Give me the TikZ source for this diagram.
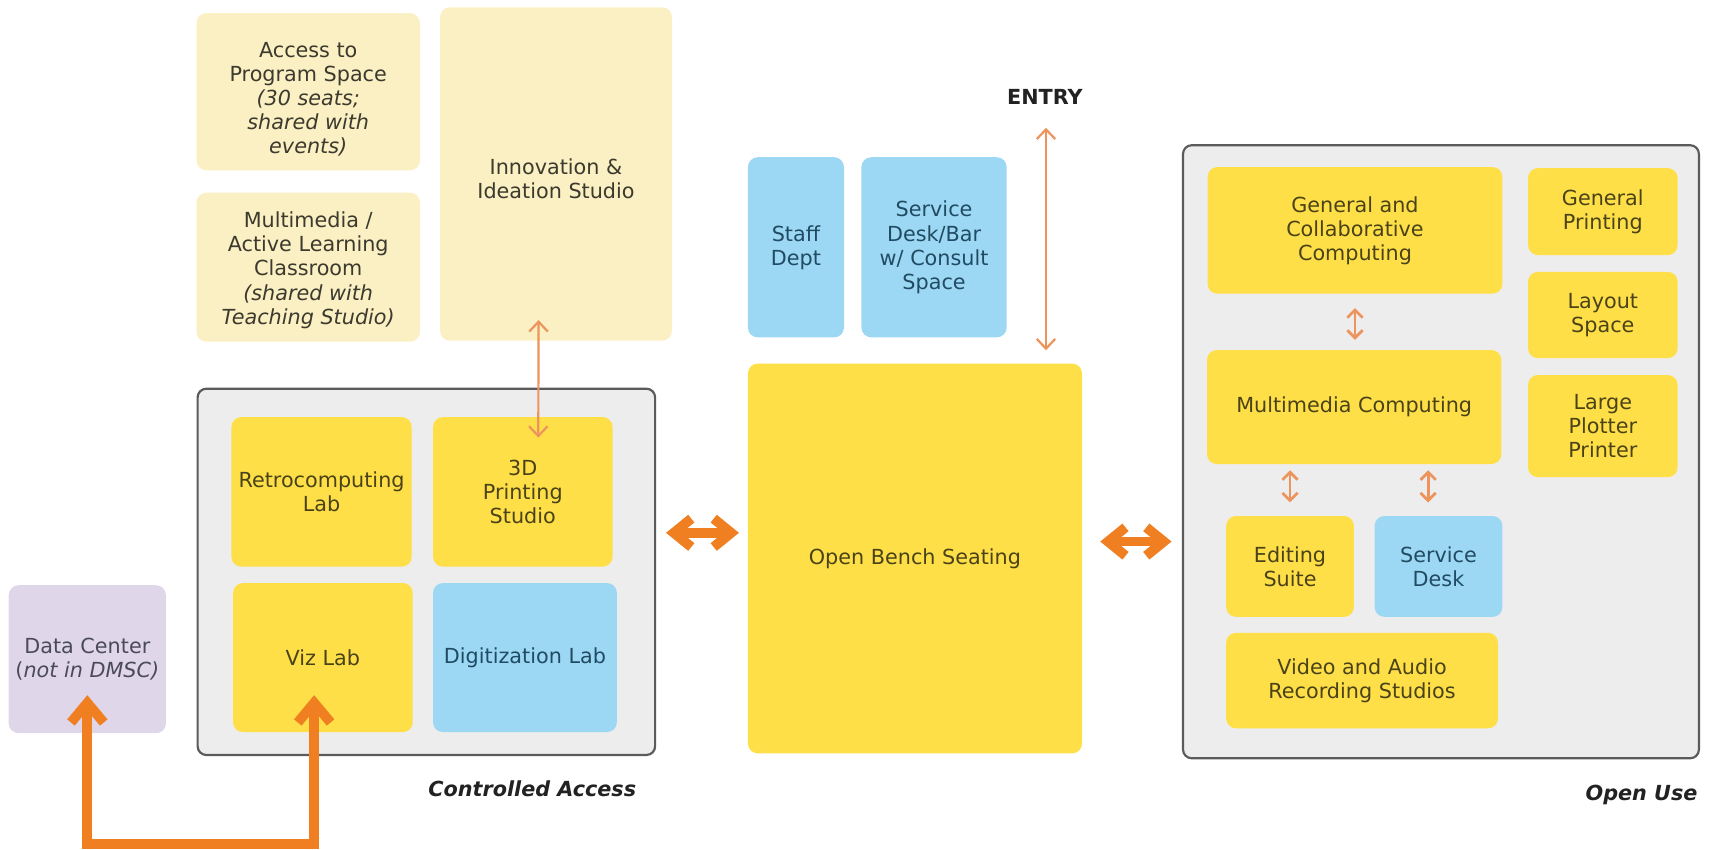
\documentclass[tikz,border=0pt]{standalone}
\usepackage{fontspec}
\setmainfont{DejaVu Sans}
\usetikzlibrary{arrows.meta}
\definecolor{yellowB}{HTML}{FFDF48}
\definecolor{paleY}{HTML}{FAF0C3}
\definecolor{blueB}{HTML}{9CD8F3}
\definecolor{lavB}{HTML}{DFD7E9}
\definecolor{grayF}{HTML}{EDEDED}
\definecolor{borderC}{HTML}{5B5B5B}
\definecolor{orangeT}{HTML}{F07F22}
\definecolor{orangeL}{HTML}{EC945C}
\definecolor{txtY}{HTML}{4A4318}
\definecolor{txtB}{HTML}{214B63}
\definecolor{txtP}{HTML}{3C3A2E}
\definecolor{txtL}{HTML}{4B4A5C}
\definecolor{txtK}{HTML}{222222}
\begin{document}
\begin{tikzpicture}[x=1pt,y=-1pt,
  base/.style={rounded corners=9pt, align=center, inner sep=0pt, font=\fontsize{19}{22}\selectfont},
  sz/.style 2 args={minimum width=#1pt, minimum height=#2pt},
  ybox/.style={base, fill=yellowB, text=txtY},
  pbox/.style={base, fill=paleY, text=txtP},
  bbox/.style={base, fill=blueB, text=txtB},
  lbox/.style={base, fill=lavB, text=txtL},
  cont/.style={rounded corners=8pt, fill=grayF, draw=borderC, line width=2pt, inner sep=0pt},
  lbl/.style={inner sep=0pt, text=txtK, font=\fontsize{19}{22}\selectfont\bfseries},
  bigarr/.style={draw=orangeT, line width=9pt, line join=miter,
    {Straight Barb[length=16pt,width=26pt]}-{Straight Barb[length=16pt,width=26pt]}},
  hugearr/.style={draw=orangeT, line width=9pt, line join=miter,
    {Straight Barb[length=18pt,width=30pt]}-{Straight Barb[length=18pt,width=30pt]}},
  thinarr/.style={draw=orangeL, line width=2pt,
    {Straight Barb[length=9pt,width=17pt]}-{Straight Barb[length=9pt,width=17pt]}},
  smallarr/.style={draw=orangeL, line width=2.5pt,
    {Straight Barb[length=7pt,width=14pt]}-{Straight Barb[length=7pt,width=14pt]}}
]
\useasboundingbox (0,0) rectangle (1568,778);

% containers
\node[cont, sz={419}{335.5}] (ctrl) at (390.5,523.75) {};
\node[cont, sz={472.5}{561.5}] (open) at (1319.75,413.75) {};

% upper-left pale rooms
\node[pbox, sz={204.6}{144}] (acc) at (282.3,84) {\rule{0pt}{28pt}Access to\\Program Space\\\textit{(30 seats;}\\\textit{shared with}\\\textit{events)}};
\node[pbox, sz={204.6}{136.5}] (mmc) at (282.3,244.75) {\rule{0pt}{20pt}Multimedia /\\Active Learning\\Classroom\\\textit{(shared with}\\\textit{Teaching Studio)}};
\node[pbox, sz={212.5}{305.3}] (innov) at (509.25,159.35) {\rule{0pt}{24pt}Innovation \&\\Ideation Studio};

% controlled access rooms
\node[ybox, sz={165}{137}] (retro) at (294.5,450.5) {Retrocomputing\\Lab};
\node[ybox, sz={164.4}{137}] (threed) at (478.8,450.5) {3D\\Printing\\Studio};
\node[ybox, sz={164.5}{136.5}] (viz) at (295.75,602.25) {Viz Lab};
\node[bbox, sz={168.4}{136.5}] (digit) at (480.8,602.25) {Digitization Lab};
\node[lbox, sz={144}{135.5}] (datac) at (80,603.75) {Data Center\\(\textit{not in DMSC)}};

% center column
\node[bbox, sz={88}{165}] (staff) at (729,226.5) {Staff\\Dept};
\node[bbox, sz={133}{165}] (sdbar) at (855.5,226.5) {Service\\Desk/Bar\\w/ Consult\\Space};
\node[ybox, sz={306}{357}] (bench) at (838,511.5) {Open Bench Seating};
\node[lbl] (entry) at (957,89) {ENTRY};
\coordinate (entrytop) at (958,117);

% open use rooms
\node[ybox, sz={270}{116}] (gencol) at (1241,211) {General and\\Collaborative\\Computing};
\node[ybox, sz={137}{79.6}] (gprint) at (1468,193.8) {General\\Printing};
\node[ybox, sz={137}{79}] (layout) at (1468,288.5) {Layout\\Space};
\node[ybox, sz={137}{93.5}] (plotter) at (1468,390.25) {Large\\Plotter\\Printer};
\node[ybox, sz={269.5}{104.4}] (mm) at (1240.25,372.8) {Multimedia Computing};
\node[ybox, sz={117}{92.4}] (edit) at (1181.5,518.8) {Editing\\Suite};
\node[bbox, sz={117}{92.4}] (sdesk) at (1317.5,518.8) {Service\\Desk};
\node[ybox, sz={249}{87.4}] (video) at (1247.5,623.3) {Video and Audio\\Recording Studios};

% labels
\node[lbl, font=\fontsize{19}{22}\selectfont\bfseries\itshape] (calbl) at (487.5,722) {Controlled Access};
\node[lbl, font=\fontsize{19}{22}\selectfont\bfseries\itshape] (oulbl) at (1503.5,728) {Open Use};

% connectors
\draw[thinarr] ([xshift=-16pt,yshift=19pt]innov.south) -- ([xshift=14.2pt,yshift=-19pt]threed.north);
\draw[thinarr, shorten >=12pt] (entrytop) -- (entrytop |- bench.north);
\draw[bigarr] ([xshift=9pt,yshift=35.75pt]ctrl.east) -- ([xshift=-8pt,yshift=23.5pt]bench.west);
\draw[bigarr] ([xshift=16.5pt,yshift=15.5pt]bench.east) -- ([xshift=-9.5pt,yshift=-82.25pt]open.west);
\draw[hugearr] ([yshift=35pt]datac.south) -- ++(0,136) -| ([xshift=-8pt,yshift=34pt]viz.south);
\draw[smallarr] ([yshift=-13pt]gencol.south) -- ++(0,29);
\draw[smallarr] ([yshift=12.2pt]edit.north) -- ++(0,-29.5);
\draw[smallarr] ([xshift=-9.5pt,yshift=12.2pt]sdesk.north) -- ++(0,-29.5);
\end{tikzpicture}
\end{document}
